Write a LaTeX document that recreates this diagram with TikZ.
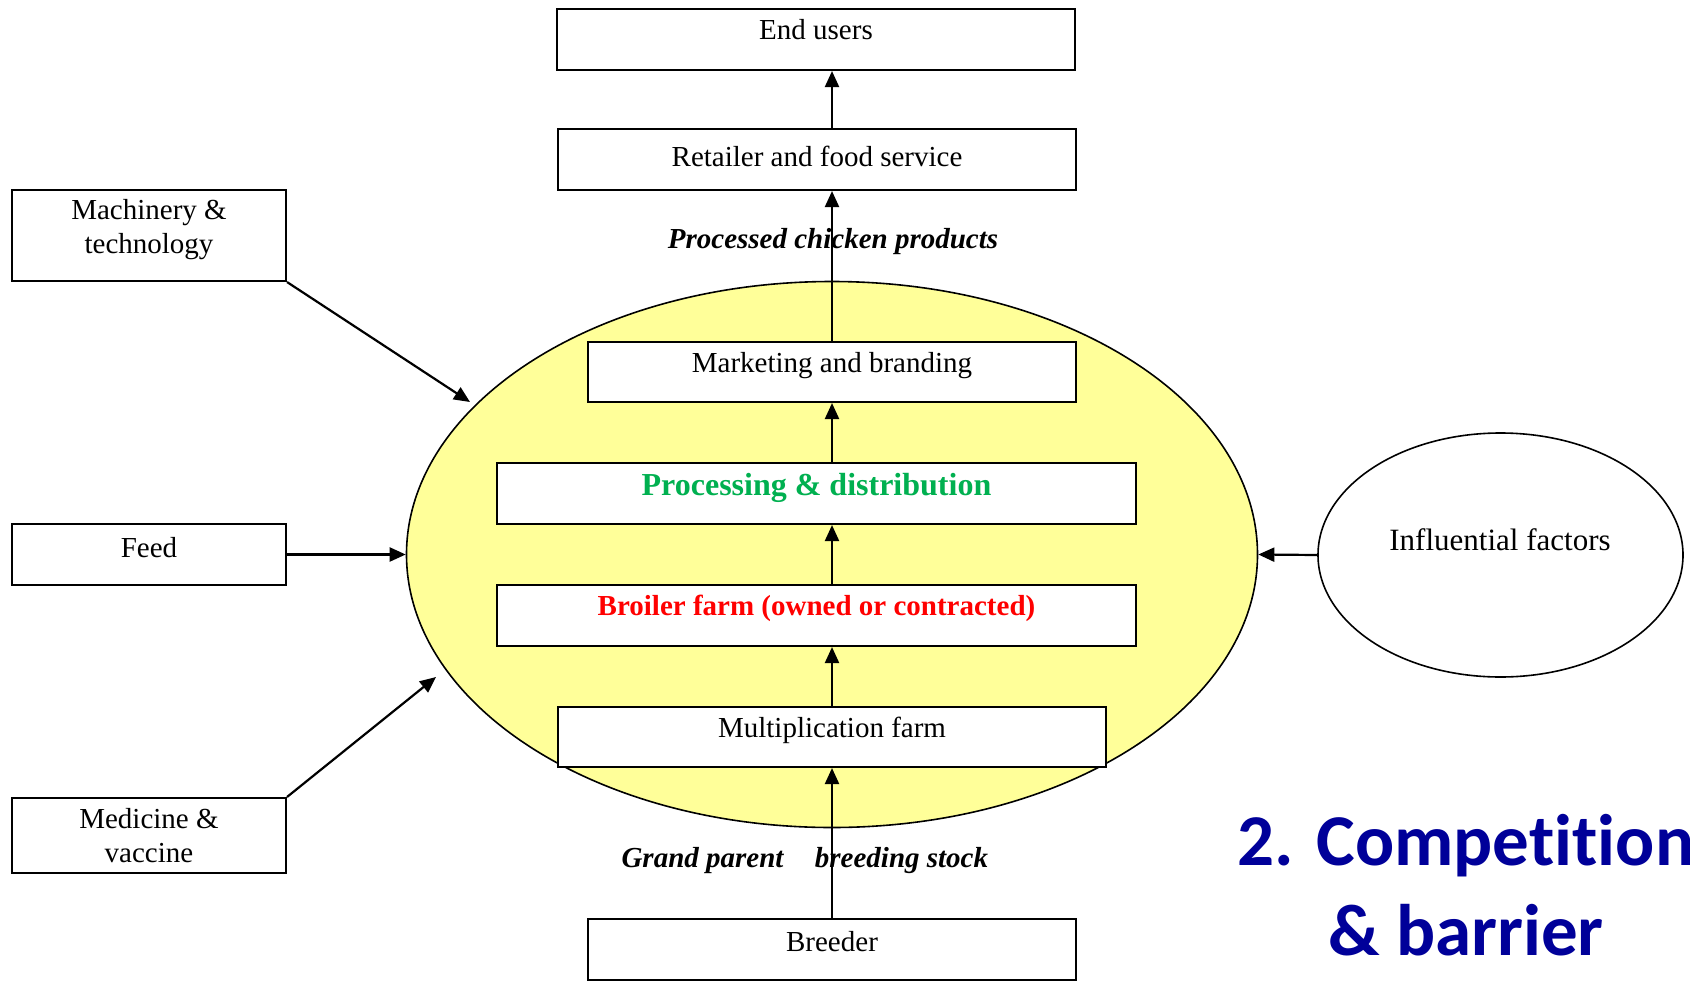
\documentclass[tikz,border=0pt]{standalone}
\usepackage{fontspec}
\setmainfont{Liberation Serif}
\newfontfamily\titlefont[Ligatures=NoCommon]{Carlito}
\usetikzlibrary{arrows.meta,shapes.geometric}
\definecolor{ellyellow}{HTML}{FFFF99}
\definecolor{procgreen}{HTML}{00B050}
\definecolor{titleblue}{RGB}{0,0,153}
\tikzset{
  box/.style={draw, fill=white, line width=2.1pt, inner sep=0pt},
  txt/.style={anchor=base, inner sep=0pt, font=\fontsize{29}{31}\selectfont},
  itxt/.style={txt, font=\fontsize{29}{31}\selectfont\bfseries\itshape},
  arr/.style={line width=2.2pt, -{Triangle[length=16pt,width=14pt]}},
}
\begin{document}
\begin{tikzpicture}[x=1pt,y=-1pt]
\useasboundingbox (0,0) rectangle (1690,983);
% central ellipse
\node[ellipse, draw, line width=1.6pt, fill=ellyellow, minimum width=851pt, minimum height=546pt, inner sep=0pt] (ell) at (832,554.5) {};
% influential factors ellipse
\node[ellipse, draw, line width=1.6pt, fill=white, minimum width=365pt, minimum height=244pt, inner sep=0pt] (inf) at (1500.5,555) {};
\node[txt, font=\fontsize{31}{33}\selectfont] (inft) at (1500,550) {Influential factors};
% boxes
\node[box, minimum width=518pt, minimum height=61pt] (eu) at (816,39.5) {};
\node[txt] (eut) at (816,39) {End users};
\node[box, minimum width=518pt, minimum height=61pt] (ret) at (817,159.5) {};
\node[txt] (rett) at (817,166) {Retailer and food service};
\node[box, minimum width=488pt, minimum height=60pt] (mkt) at (832,372) {};
\node[txt] (mktt) at (832,372) {Marketing and branding};
\node[box, minimum width=639pt, minimum height=61pt] (proc) at (816.5,493.5) {};
\node[txt, font=\fontsize{32}{34}\selectfont\bfseries, text=procgreen] (proct) at (816.5,495) {Processing \& distribution};
\node[box, minimum width=639pt, minimum height=61pt] (broil) at (816.5,615.5) {};
\node[txt, font=\fontsize{29}{31}\selectfont\bfseries, text=red] (broilt) at (816.5,615) {Broiler farm (owned or contracted)};
\node[box, minimum width=548pt, minimum height=60pt] (mult) at (832,737) {};
\node[txt] (multt) at (832,737) {Multiplication farm};
\node[box, minimum width=488pt, minimum height=61pt] (breed) at (832,949.5) {};
\node[txt] (breedt) at (832,951) {Breeder};
\node[box, minimum width=274pt, minimum height=91pt] (mach) at (149,235.5) {};
\node[txt, align=center] (macht) at (149,253) {Machinery \&\\[3pt]technology};
\node[box, minimum width=274pt, minimum height=61pt] (feed) at (149,554.5) {};
\node[txt] (feedt) at (149,557) {Feed};
\node[box, minimum width=274pt, minimum height=75pt] (med) at (149,835.5) {};
\node[txt, align=center] (medt) at (149,862) {Medicine \&\\[3pt]vaccine};
% labels
\node[itxt] (pcp) at (833,248) {Processed chicken products};
\node[itxt] (gp) at (702.5,867) {Grand parent};
\node[itxt] (bs) at (901.5,867) {breeding stock};
% title
\node[anchor=base, inner sep=0pt, align=center, text=titleblue, font=\titlefont\fontsize{73}{90}\selectfont\bfseries] (title) at (1466,955) {2. Competition\\\& barrier};
% connectors
\coordinate (machtip) at (470,402);
\coordinate (medtip) at (436,677);
\draw[arr] (mach.south east) -- (machtip);
\draw[arr] (med.north east) -- (medtip);
\draw[arr] (feed.east) -- (ell.west);
\draw[arr] (inf.west) -- (ell.east);
\draw[arr] (breed.north) -- (mult.south);
\draw[arr] (mult.north) -- (mult.north |- broil.south);
\draw[arr] (mult.north |- broil.north) -- (mult.north |- proc.south);
\draw[arr] (mult.north |- proc.north) -- (mkt.south);
\draw[arr] (mkt.north) -- (mkt.north |- ret.south);
\draw[arr] (mkt.north |- ret.north) -- (mkt.north |- eu.south);
\end{tikzpicture}
\end{document}
